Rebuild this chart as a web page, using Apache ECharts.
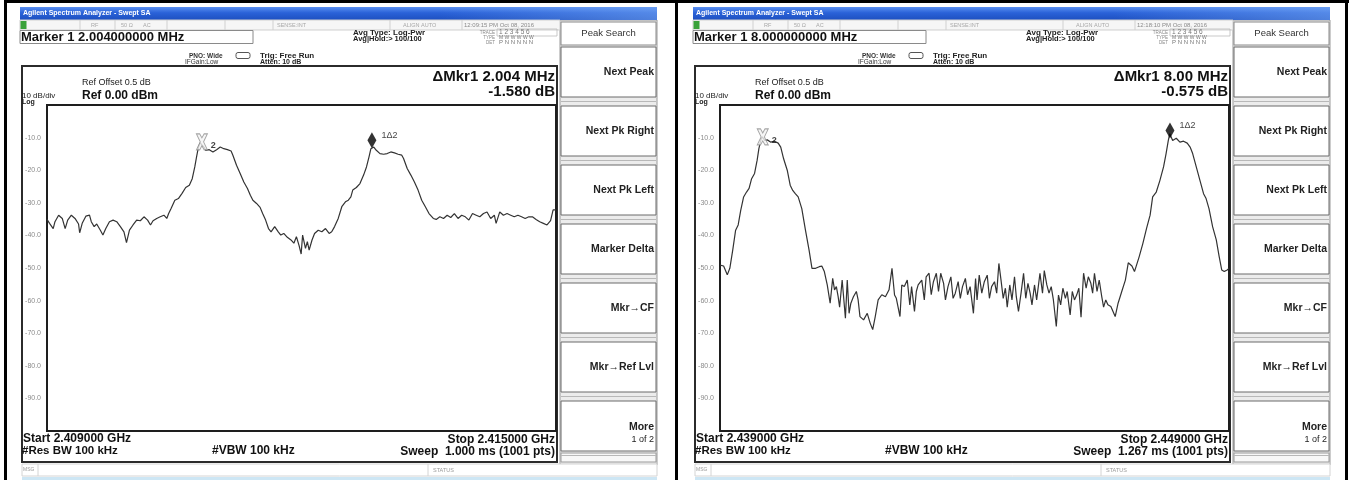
<!DOCTYPE html>
<html><head><meta charset="utf-8">
<script src="https://cdn.jsdelivr.net/npm/echarts@6/dist/echarts.min.js"></script>
<style>html,body{margin:0;padding:0;background:#fff}#c{width:1353px;height:480px}</style>
</head><body><div id="c"></div>
<script>
// ---------- data ----------
const leftStartMHz = 2409, leftStopMHz = 2415, leftDivMHz = 0.6;
const rightStartMHz = 2439, rightStopMHz = 2449, rightDivMHz = 1.0;
const yTicks = [0, -10, -20, -30, -40, -50, -60, -70, -80, -90, -100];

const leftOffsetMHz = [0.000,0.030,0.073,0.094,0.137,0.180,0.214,0.244,0.287,0.330,0.372,0.385,0.415,0.458,0.501,0.522,0.556,0.586,0.629,0.659,0.693,0.736,0.779,0.822,0.865,0.907,0.937,0.972,1.014,1.057,1.100,1.143,1.186,1.220,1.250,1.293,1.335,1.378,1.412,1.434,1.464,1.507,1.549,1.592,1.635,1.678,1.712,1.742,1.763,1.785,1.806,1.828,1.849,1.870,1.913,1.956,1.999,2.042,2.084,2.127,2.170,2.191,2.234,2.277,2.320,2.363,2.397,2.427,2.470,2.512,2.542,2.577,2.611,2.641,2.684,2.726,2.756,2.791,2.833,2.876,2.910,2.940,2.970,2.996,3.013,3.047,3.069,3.090,3.124,3.154,3.197,3.240,3.283,3.326,3.356,3.390,3.433,3.475,3.518,3.552,3.582,3.604,3.647,3.689,3.732,3.766,3.796,3.818,3.839,3.852,3.882,3.925,3.968,4.010,4.053,4.096,4.139,4.182,4.203,4.246,4.289,4.331,4.374,4.417,4.460,4.503,4.554,4.588,4.631,4.674,4.717,4.759,4.802,4.845,4.888,4.931,4.973,5.016,5.059,5.102,5.145,5.187,5.230,5.273,5.294,5.337,5.380,5.423,5.466,5.508,5.551,5.594,5.637,5.680,5.722,5.765,5.808,5.851,5.894,5.936,5.966,6.000];
const leftLevelDb = [-35.1,-36.3,-37.9,-35.8,-33.8,-34.8,-37.9,-35.3,-33.8,-34.8,-36.5,-39.2,-36.3,-34.1,-33.8,-35.8,-37.3,-36.5,-38.4,-39.9,-37.9,-35.8,-35.3,-35.8,-37.3,-38.9,-42.2,-38.4,-36.8,-35.3,-35.5,-34.3,-35.3,-36.8,-35.5,-34.8,-34.3,-33.8,-34.8,-33.3,-31.7,-29.2,-28.7,-27.1,-25.3,-24.6,-22.6,-19.0,-15.9,-12.9,-11.6,-11.8,-12.9,-13.9,-13.7,-14.4,-13.7,-12.9,-13.4,-13.7,-14.1,-15.4,-18.5,-21.0,-23.6,-25.6,-27.7,-29.2,-30.2,-31.4,-33.3,-35.3,-37.9,-38.9,-37.3,-38.9,-39.9,-39.4,-40.6,-41.4,-42.4,-40.4,-43.0,-45.7,-39.9,-44.0,-41.9,-44.5,-41.4,-39.4,-38.4,-38.9,-37.9,-39.4,-38.9,-37.3,-34.8,-31.2,-29.7,-29.2,-28.2,-26.1,-25.3,-24.1,-21.5,-19.0,-15.9,-13.4,-13.0,-12.9,-13.9,-14.9,-15.1,-14.9,-14.4,-14.7,-15.1,-15.4,-16.4,-19.5,-21.5,-23.6,-26.1,-29.2,-31.2,-33.3,-34.8,-35.1,-34.3,-34.8,-33.8,-34.5,-33.3,-34.8,-33.8,-34.3,-35.3,-33.3,-33.8,-34.3,-33.3,-32.8,-34.8,-33.8,-36.3,-32.8,-33.8,-33.3,-33.8,-34.3,-33.8,-34.3,-34.8,-34.3,-34.3,-35.1,-35.8,-36.3,-36.8,-35.5,-32.2,-32.2];

const rightOffsetMHz = [0.000,0.071,0.143,0.193,0.250,0.307,0.357,0.407,0.464,0.521,0.571,0.621,0.679,0.729,0.764,0.807,0.836,0.879,0.929,1.000,1.071,1.143,1.193,1.250,1.321,1.379,1.429,1.479,1.536,1.607,1.679,1.750,1.807,1.879,1.950,2.000,2.050,2.107,2.164,2.214,2.250,2.286,2.321,2.350,2.400,2.464,2.500,2.536,2.571,2.621,2.679,2.714,2.750,2.821,2.893,2.950,3.000,3.050,3.107,3.179,3.250,3.321,3.379,3.429,3.464,3.536,3.571,3.621,3.679,3.729,3.764,3.821,3.857,3.893,3.964,4.014,4.050,4.107,4.150,4.193,4.250,4.293,4.336,4.393,4.429,4.479,4.536,4.579,4.621,4.679,4.721,4.764,4.821,4.864,4.914,4.979,5.021,5.050,5.093,5.143,5.193,5.250,5.293,5.336,5.393,5.436,5.479,5.521,5.564,5.607,5.643,5.693,5.736,5.786,5.821,5.864,5.914,5.964,6.007,6.050,6.093,6.129,6.179,6.221,6.286,6.336,6.371,6.421,6.464,6.507,6.550,6.607,6.650,6.693,6.736,6.786,6.821,6.879,6.921,6.964,7.007,7.050,7.093,7.143,7.193,7.236,7.286,7.321,7.357,7.407,7.450,7.500,7.536,7.579,7.621,7.679,7.764,7.821,7.893,7.964,8.021,8.093,8.143,8.179,8.236,8.307,8.379,8.450,8.500,8.571,8.643,8.714,8.764,8.807,8.836,8.893,8.964,9.036,9.107,9.179,9.236,9.286,9.357,9.429,9.500,9.550,9.607,9.679,9.750,9.807,9.857,9.907,9.964,10.000];
const rightLevelDb = [-49.1,-49.4,-52.1,-50.1,-44.5,-38.4,-36.8,-32.3,-28.2,-26.7,-25.6,-22.6,-21.0,-17.0,-13.4,-10.5,-9.8,-10.9,-10.7,-11.4,-11.1,-11.7,-12.9,-16.5,-20.0,-24.6,-26.2,-27.2,-28.2,-31.8,-38.4,-44.5,-50.1,-50.1,-49.6,-49.4,-51.1,-55.2,-60.8,-53.2,-56.7,-55.7,-58.8,-62.0,-53.7,-65.4,-53.7,-63.9,-60.8,-58.8,-57.2,-59.8,-64.9,-65.9,-63.9,-66.9,-68.9,-64.9,-59.8,-58.2,-58.8,-56.7,-50.1,-58.3,-59.3,-64.9,-55.2,-55.7,-53.7,-61.3,-55.7,-63.3,-57.2,-55.2,-53.7,-59.8,-52.7,-51.6,-58.2,-54.2,-51.6,-57.2,-51.6,-54.7,-59.8,-55.7,-52.7,-59.3,-57.8,-54.2,-59.3,-55.7,-53.2,-58.2,-55.7,-63.9,-53.2,-59.8,-52.2,-57.7,-54.2,-52.2,-59.3,-55.7,-54.2,-57.7,-48.6,-53.7,-59.3,-56.2,-62.0,-55.2,-59.8,-52.7,-58.8,-63.3,-57.8,-51.6,-59.3,-54.7,-57.7,-61.3,-55.2,-59.8,-51.6,-57.7,-50.8,-55.2,-57.7,-55.7,-59.8,-67.9,-58.3,-61.3,-56.2,-59.3,-57.2,-64.4,-57.2,-59.8,-58.3,-56.2,-65.1,-51.6,-56.2,-52.7,-54.7,-57.7,-51.6,-57.2,-53.7,-58.8,-62.0,-59.8,-61.3,-61.8,-64.9,-60.8,-57.2,-53.7,-48.4,-49.4,-51.1,-50.6,-46.5,-42.5,-37.9,-33.8,-28.2,-26.7,-23.1,-19.0,-14.9,-10.9,-8.8,-10.9,-10.2,-11.4,-11.1,-11.7,-12.9,-14.9,-19.0,-23.1,-27.2,-28.7,-31.8,-37.4,-41.4,-46.5,-50.6,-51.1,-50.6,-50.1];

// markers: [frequency MHz, level dB]
const leftMarker2 = [2410.826, -11.3];
const leftMarker1 = [2412.830, -10.8];
const rightMarker2 = [2439.840, -9.8];
const rightMarker1 = [2447.840, -7.8];

const leftTexts = {
  marker: 'Marker 1 2.004000000 MHz', time: '12:09:15 PM Oct 08, 2016',
  delta: '\u0394Mkr1 2.004 MHz', deltaDb: '-1.580 dB',
  start: 'Start 2.409000 GHz', stop: 'Stop 2.415000 GHz', sweep: 'Sweep  1.000 ms (1001 pts)'
};
const rightTexts = {
  marker: 'Marker 1 8.000000000 MHz', time: '12:18:10 PM Oct 08, 2016',
  delta: '\u0394Mkr1 8.00 MHz', deltaDb: '-0.575 dB',
  start: 'Start 2.439000 GHz', stop: 'Stop 2.449000 GHz', sweep: 'Sweep  1.267 ms (1001 pts)'
};
const softKeys = ['Next Peak', 'Next Pk Right', 'Next Pk Left', 'Marker Delta', 'Mkr\u2192CF', 'Mkr\u2192Ref Lvl', 'More'];

// ---------- layout ----------
const FONT = '"Liberation Sans", Arial, sans-serif';
const PANEL_X = [20, 693];          // left edge of each screenshot
const PLOT_DX = 27, PLOT_W = 509, PLOT_TOP = 105, PLOT_H = 326;

function R(x, y, w, h, style, z, r) {
  return { type: 'rect', shape: { x, y, width: w, height: h, r: r || 0 }, style, z: z === undefined ? -5 : z, silent: true };
}
function T(x, y, text, size, opts) {
  opts = opts || {};
  return { type: 'text', x, y, z: 20, silent: true, style: {
    text, fill: opts.fill || '#111', font: (opts.weight || 'normal') + ' ' + size + 'px ' + FONT,
    textAlign: opts.align || 'left', textVerticalAlign: 'middle' } };
}
function L(x1, y1, x2, y2, color, w, z) {
  return { type: 'line', shape: { x1, y1, x2, y2 }, style: { stroke: color, lineWidth: w || 1 }, z: z === undefined ? -4 : z, silent: true };
}

function panel(ox, t) {
  const g = [];
  // title bar
  g.push(R(ox, 7, 637, 13, { fill: new echarts.graphic.LinearGradient(0, 0, 0, 1, [
    { offset: 0, color: '#5a8ff0' }, { offset: 0.45, color: '#2a62d8' }, { offset: 1, color: '#1d4fc0' }]) }));
  g.push(R(ox + 420, 7, 217, 13, { fill: new echarts.graphic.LinearGradient(0, 0, 1, 0, [
    { offset: 0, color: 'rgba(120,170,245,0)' }, { offset: 1, color: 'rgba(120,170,245,0.55)' }]) }, -4));
  g.push(T(ox + 3, 13.5, 'Agilent Spectrum Analyzer - Swept SA', 7, { fill: '#ffffff', weight: 'bold' }));
  // status row
  g.push(R(ox, 20, 540, 10, { fill: '#f6f6f6', stroke: '#cfcfcf', lineWidth: 1 }));
  g.push(R(ox + 0.5, 21, 6, 8, { fill: '#3aa23a' }, -3));
  [60, 95, 147, 205, 253, 370, 442].forEach(s => g.push(L(ox + s, 20, ox + s, 30, '#d0d0d0', 1, -3)));
  const sc = { fill: '#a8a8a8' };
  g.push(T(ox + 71, 25, 'RF', 5.5, sc));
  g.push(T(ox + 101, 25, '50 \u03A9', 5.5, sc));
  g.push(T(ox + 123, 25, 'AC', 5.5, sc));
  g.push(T(ox + 257, 25, 'SENSE:INT', 5.5, sc));
  g.push(T(ox + 383, 25, 'ALIGN AUTO', 5.5, sc));
  g.push(T(ox + 444, 25, t.time, 6, { fill: '#8a8a8a' }));
  // marker box
  g.push(R(ox, 30.5, 233, 13, { fill: '#ffffff', stroke: '#8a8a8a', lineWidth: 1 }));
  g.push(T(ox + 1, 37, t.marker, 13, { weight: 'bold' }));
  // acquisition info
  g.push(T(ox + 169, 56, 'PNO: Wide', 6.5, { weight: 'bold', fill: '#333' }));
  g.push(R(ox + 216, 52.5, 14, 6, { fill: 'none', stroke: '#555', lineWidth: 1 }, -3, 2));
  g.push(T(ox + 165, 62.5, 'IFGain:Low', 6.5, { fill: '#333' }));
  g.push(T(ox + 240, 55.5, 'Trig: Free Run', 8, { weight: 'bold', fill: '#222' }));
  g.push(T(ox + 240, 62.5, 'Atten: 10 dB', 7, { weight: 'bold', fill: '#222' }));
  g.push(T(ox + 333, 32.5, 'Avg Type: Log-Pwr', 8, { weight: 'bold', fill: '#222' }));
  g.push(T(ox + 333, 39, 'Avg|Hold:> 100/100', 7.5, { weight: 'bold', fill: '#222' }));
  g.push(T(ox + 475, 32.5, 'TRACE', 4.5, { fill: '#888', align: 'right' }));
  g.push(T(ox + 475, 37.5, 'TYPE', 4.5, { fill: '#888', align: 'right' }));
  g.push(T(ox + 475, 42.5, 'DET', 4.5, { fill: '#888', align: 'right' }));
  g.push(R(ox + 477, 29, 60, 7, { fill: 'none', stroke: '#bbb', lineWidth: 0.8 }, -3));
  g.push(T(ox + 479, 32.5, '1 2 3 4 5 6', 6.5, { fill: '#777' }));
  g.push(T(ox + 479, 37.5, 'M W W W W W', 5, { fill: '#777' }));
  g.push(T(ox + 479, 42.5, 'P N N N N N', 6, { fill: '#777' }));
  // measurement box
  g.push(R(ox + 2, 66, 535, 396, { fill: '#ffffff', stroke: '#2b2b2b', lineWidth: 2 }, -6));
  g.push(T(ox + 62, 83, 'Ref Offset 0.5 dB', 9, { fill: '#222' }));
  g.push(T(ox + 62, 95.5, 'Ref 0.00 dBm', 12, { weight: 'bold' }));
  g.push(T(ox + 2, 96, '10 dB/div', 8, { fill: '#222' }));
  g.push(T(ox + 2, 102.5, 'Log', 7, { weight: 'bold', fill: '#222' }));
  g.push(T(ox + 535, 77, t.delta, 15, { weight: 'bold', align: 'right' }));
  g.push(T(ox + 535, 92, t.deltaDb, 15, { weight: 'bold', align: 'right' }));
  g.push(T(ox + 3, 439, t.start, 12, { weight: 'bold' }));
  g.push(T(ox + 2, 451, '#Res BW 100 kHz', 11.5, { weight: 'bold' }));
  g.push(T(ox + 192, 451, '#VBW 100 kHz', 12, { weight: 'bold' }));
  g.push(T(ox + 535, 440, t.stop, 12, { weight: 'bold', align: 'right' }));
  g.push(T(ox + 535, 452, t.sweep, 12, { weight: 'bold', align: 'right' }));
  // softkeys
  g.push(R(ox + 540, 20, 97, 445, { fill: '#ececec', stroke: '#9a9a9a', lineWidth: 1 }, -6));
  g.push(R(ox + 541, 22, 95, 23, { fill: '#ffffff', stroke: '#8a8a8a', lineWidth: 1 }));
  g.push(T(ox + 588.5, 33.5, 'Peak Search', 9.5, { align: 'center', fill: '#333' }));
  softKeys.forEach((k, i) => {
    const y = 47 + 59 * i;
    g.push(R(ox + 541, y, 95, 50, { fill: '#ffffff', stroke: '#6a6a6a', lineWidth: 1 }));
    g.push(L(ox + 541, y + 54.5, ox + 636, y + 54.5, '#b8b8b8', 1, -4));
    if (k === 'More') {
      g.push(T(ox + 634, 427, k, 10.5, { weight: 'bold', align: 'right', fill: '#222' }));
      g.push(T(ox + 634, 440, '1 of 2', 9, { align: 'right', fill: '#222' }));
    } else {
      g.push(T(ox + 634, y + 25, k, 10.5, { weight: 'bold', align: 'right', fill: '#222' }));
    }
  });
  g.push(R(ox + 541, 453, 95, 9, { fill: '#f8f8f8', stroke: '#9a9a9a', lineWidth: 1 }));
  // message row
  g.push(R(ox + 2, 464, 635, 12, { fill: '#ffffff', stroke: '#d4d4d4', lineWidth: 1 }, -6));
  g.push(L(ox + 18, 464, ox + 18, 476, '#d4d4d4', 1, -3));
  g.push(L(ox + 408, 464, ox + 408, 476, '#d4d4d4', 1, -3));
  g.push(T(ox + 3, 470, 'MSG', 5, { fill: '#999' }));
  g.push(T(ox + 413, 470, 'STATUS', 5.5, { fill: '#999' }));
  g.push(R(ox + 2, 477, 635, 3, { fill: '#cde6f4' }, -6));
  return g;
}

let graphics = [];
graphics = graphics.concat(panel(PANEL_X[0], leftTexts), panel(PANEL_X[1], rightTexts));
// outer table borders + clipped heading
graphics.push(R(4, 0, 1345, 3, { fill: '#000' }, 30));
graphics.push(R(4, 0, 3, 480, { fill: '#000' }, 30));
graphics.push(R(675, 0, 3, 480, { fill: '#000' }, 30));
graphics.push(R(1345, 0, 3, 480, { fill: '#000' }, 30));
graphics.push({ type: 'text', x: 489, y: -2, z: 31, silent: true, style: {
  text: 'Carrier Frequency Separation', fill: '#000', font: 'bold 32px "Liberation Serif", serif',
  textAlign: 'left', textVerticalAlign: 'bottom' } });

function axisPair(idx, start, stop, div) {
  return {
    x: { gridIndex: idx, type: 'value', min: start, max: stop, interval: div,
      axisLabel: { show: false }, axisTick: { show: false }, axisLine: { show: false },
      splitLine: { show: true, lineStyle: { color: '#808080', width: 1 } } },
    y: { gridIndex: idx, type: 'value', min: -100, max: 0, interval: 10,
      axisTick: { show: false }, axisLine: { show: false },
      splitLine: { show: true, lineStyle: { color: '#808080', width: 1 } },
      axisLabel: { margin: 6, color: '#8c8c8c', fontSize: 7, fontFamily: FONT,
        formatter: v => (yTicks.indexOf(v) > 0 && yTicks.indexOf(v) < yTicks.length - 1) ? v.toFixed(1) : '' } }
  };
}
const a0 = axisPair(0, leftStartMHz, leftStopMHz, leftDivMHz);
const a1 = axisPair(1, rightStartMHz, rightStopMHz, rightDivMHz);

const leftData = leftOffsetMHz.map((o, i) => [leftStartMHz + o, leftLevelDb[i]]);
const rightData = rightOffsetMHz.map((o, i) => [rightStartMHz + o, rightLevelDb[i]]);

const XPATH = 'path://M0,0 L3,0 L5,4 L7,0 L10,0 L6.5,8 L10,16 L7,16 L5,12 L3,16 L0,16 L3.5,8 Z';
function markerSeries(idx, m2, m1) {
  return [
    { type: 'scatter', xAxisIndex: idx, yAxisIndex: idx, z: 5, data: [m2], symbol: XPATH, symbolSize: [11, 16],
      itemStyle: { color: '#f4f4f4', borderColor: '#8e8e8e', borderWidth: 1 },
      label: { show: true, formatter: '2', position: 'right', offset: [-2, 4], color: '#111', fontSize: 9, fontWeight: 'bold', fontFamily: FONT } },
    { type: 'scatter', xAxisIndex: idx, yAxisIndex: idx, z: 5, data: [m1], symbol: 'diamond', symbolSize: [9, 16],
      itemStyle: { color: '#000' },
      label: { show: true, formatter: '1\u03942', position: 'right', offset: [0, -5], color: '#111', fontSize: 9, fontFamily: FONT } }
  ];
}

const option = {
  animation: false,
  backgroundColor: '#ffffff',
  grid: [
    { left: PANEL_X[0] + PLOT_DX, top: PLOT_TOP, width: PLOT_W, height: PLOT_H, show: true, borderColor: '#1e1e1e', borderWidth: 2, backgroundColor: '#fff', z: 1 },
    { left: PANEL_X[1] + PLOT_DX, top: PLOT_TOP, width: PLOT_W, height: PLOT_H, show: true, borderColor: '#1e1e1e', borderWidth: 2, backgroundColor: '#fff', z: 1 }
  ],
  xAxis: [a0.x, a1.x],
  yAxis: [a0.y, a1.y],
  graphic: { elements: graphics },
  series: [
    { type: 'line', xAxisIndex: 0, yAxisIndex: 0, data: leftData, showSymbol: false, z: 3,
      lineStyle: { color: '#333333', width: 1.2 } },
    { type: 'line', xAxisIndex: 1, yAxisIndex: 1, data: rightData, showSymbol: false, z: 3,
      lineStyle: { color: '#333333', width: 1.2 } }
  ].concat(markerSeries(0, leftMarker2, leftMarker1), markerSeries(1, rightMarker2, rightMarker1))
};
const chart = echarts.init(document.getElementById('c'), null, { renderer: 'canvas' });
chart.setOption(option);
</script>
</body></html>
